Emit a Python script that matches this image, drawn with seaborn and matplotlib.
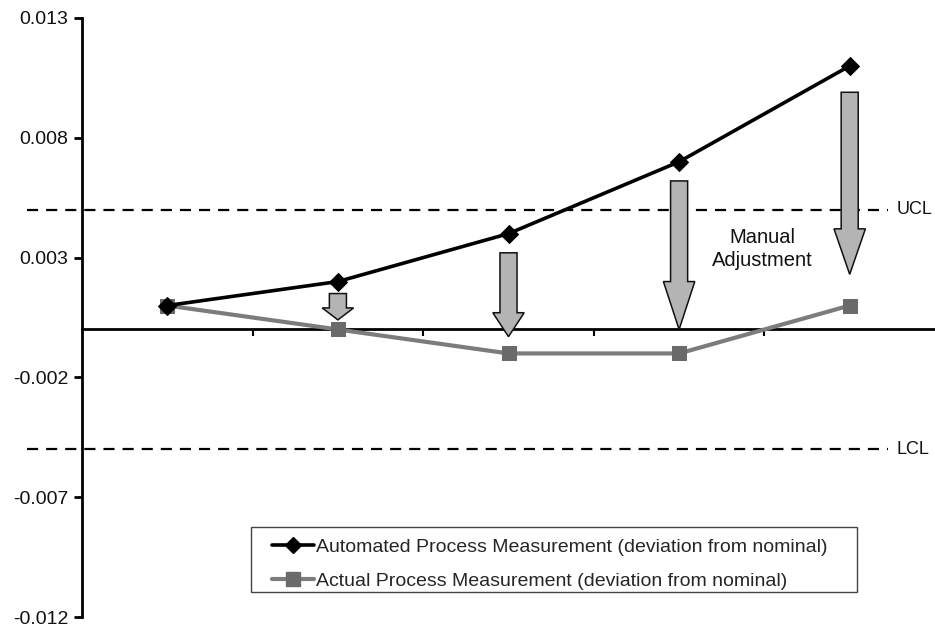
import numpy as np
import pandas as pd
import matplotlib
matplotlib.use("Agg")
import matplotlib.pyplot as plt
from matplotlib.lines import Line2D
from matplotlib.patches import Rectangle
import seaborn as sns

# ---- data ----
periods = [1, 2, 3, 4, 5]
automated = [0.001, 0.002, 0.004, 0.007, 0.011]
actual = [0.001, 0.000, -0.001, -0.001, 0.001]
ucl = 0.005
lcl = -0.005
y_ticks = [0.013, 0.008, 0.003, -0.002, -0.007, -0.012]
y_tick_labels = ["0.013", "0.008", "0.003", "-0.002", "-0.007", "-0.012"]
# manual adjustment arrows (period, top, head start, tip)
arrow_x = [2, 3, 4, 5]
arrow_top = [0.0015, 0.0032, 0.0062, 0.0099]
arrow_head = [0.0009, 0.0007, 0.0020, 0.0042]
arrow_tip = [0.0004, -0.0003, 0.0000, 0.0023]
label_auto = "Automated Process Measurement (deviation from nominal)"
label_act = "Actual Process Measurement (deviation from nominal)"

sns.set_style("white")
plt.rcParams["font.family"] = ["Liberation Sans", "DejaVu Sans"]

fig = plt.figure(figsize=(9.35, 6.29), dpi=100)
ax = fig.add_axes([82 / 935, 1 - 617 / 629, (935 - 82) / 935, 599 / 629])

df = pd.DataFrame({"period": periods, "automated": automated, "actual": actual})

# control limit lines (extend into label area like the original)
for val, name in [(ucl, "UCL"), (lcl, "LCL")]:
    ax.plot([-0.065, 0.945], [val, val], transform=ax.get_yaxis_transform(),
            color="black", lw=1.6, ls=(0, (5, 3.6)), clip_on=False, zorder=1)
    ax.text(0.955, val, name, transform=ax.get_yaxis_transform(),
            ha="left", va="center", fontsize=13, color="#111111")

# arrows
bw, hw = 0.05, 0.092
for x, t, h, tip in zip(arrow_x, arrow_top, arrow_head, arrow_tip):
    xs = [x - bw, x + bw, x + bw, x + hw, x, x - hw, x - bw]
    ys = [t, t, h, h, tip, h, h]
    ax.fill(xs, ys, facecolor="#b4b4b4", edgecolor="#111111", lw=1.1, zorder=3)

sns.lineplot(data=df, x="period", y="actual", ax=ax, color="#7c7c7c", lw=3,
             marker="s", markersize=10, markerfacecolor="#6a6a6a",
             markeredgecolor="#6a6a6a", zorder=4, legend=False)
sns.lineplot(data=df, x="period", y="automated", ax=ax, color="black", lw=2.6,
             marker="D", markersize=9, markerfacecolor="black",
             markeredgecolor="black", zorder=5, legend=False)

ax.text(4.49, 0.00335, "Manual\nAdjustment", ha="center", va="center",
        fontsize=14.5, linespacing=1.3, color="#111111")

ax.set_xlim(0.5, 5.5)
ax.set_ylim(-0.012, 0.013)
ax.set_yticks(y_ticks)
ax.set_yticklabels(y_tick_labels, fontsize=14)
ax.set_xticks([1.5, 2.5, 3.5, 4.5])
ax.set_xticklabels([])
ax.set_xlabel("")
ax.set_ylabel("")
ax.tick_params(axis="y", direction="out", length=6, width=2, color="black",
               pad=4, labelcolor="#111111", left=True)
ax.tick_params(axis="x", direction="out", length=5, width=1.5, color="black", bottom=True)
for s in ["top", "right"]:
    ax.spines[s].set_visible(False)
ax.spines["left"].set_linewidth(2)
ax.spines["left"].set_color("black")
ax.spines["bottom"].set_position(("data", 0))
ax.spines["bottom"].set_linewidth(2)
ax.spines["bottom"].set_color("black")
ax.grid(False)

# legend frame
ax.add_patch(Rectangle((0.198, 0.0417), 0.710, 0.1085, transform=ax.transAxes,
                       facecolor="white", edgecolor="#444444", lw=1,
                       zorder=6, clip_on=False))
handles = [
    Line2D([], [], color="black", lw=2.6, marker="D", markersize=8),
    Line2D([], [], color="#7c7c7c", lw=3, marker="s", markersize=10,
           markerfacecolor="#6a6a6a", markeredgecolor="#6a6a6a"),
]
leg = ax.legend(handles, [label_auto, label_act], loc="upper left",
                bbox_to_anchor=(0.2227, 0.131), fontsize=14, frameon=False,
                handlelength=2.15, handletextpad=0.1, borderpad=0,
                labelspacing=0.85, borderaxespad=0)
leg.set_zorder(7)

fig.savefig("out.png", dpi=100)
